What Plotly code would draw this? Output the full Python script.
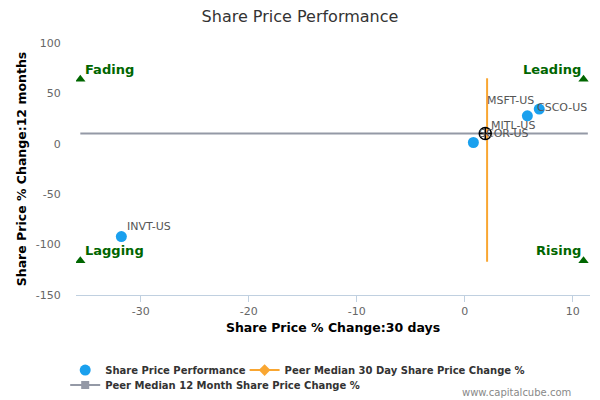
import plotly.graph_objects as go

# peers: 30 day change vs 12 month change
tickers = ["INVT-US", "SCOR-US", "MSFT-US", "CSCO-US"]
chg_30d = [-31.8, 0.8, 5.8, 6.9]
chg_12m = [-92.0, 1.3, 27.8, 34.4]

# subject company
subject = "MITL-US"
subject_30d = 1.9
subject_12m = 10.2

# peer medians and the extent of their guide lines
median_30d = 2.07
median_12m = 10.2
median_30d_span = [-117, 65]
median_12m_span = [-35.6, 11.4]

# quadrant markers
quad_names = ["Fading", "Leading", "Lagging", "Rising"]
quad_x = [-35.6, 11.0, -35.6, 11.0]
quad_y = [64, 64, -116, -116]

x_ticks = [-30, -20, -10, 0, 10]
x_tick_text = ["-30", "-20", "-10", "0", "10"]
y_ticks = [-150, -100, -50, 0, 50, 100]
y_tick_text = ["-150", "-100", "-50", "0", "50", "100"]

FONT = "DejaVu Sans"
BLUE = "#1aa0ee"
ORANGE = "#f9a631"
GREY = "#9499a6"
GREEN = "#006600"

fig = go.Figure()

fig.add_trace(go.Scatter(
    x=chg_30d, y=chg_12m, mode="markers", name="<b>Share Price Performance</b>",
    marker=dict(color=BLUE, size=11, line=dict(width=0)), legend="legend",
))
fig.add_trace(go.Scatter(
    x=[median_30d, median_30d], y=median_30d_span, mode="lines", showlegend=False,
    line=dict(color=ORANGE, width=2),
))
fig.add_trace(go.Scatter(
    x=median_12m_span, y=[median_12m, median_12m], mode="lines", showlegend=False,
    line=dict(color=GREY, width=2),
))
# legend entries for the median lines
fig.add_trace(go.Scatter(
    x=[None], y=[None], mode="lines+markers", legend="legend2",
    name="<b>Peer Median 30 Day Share Price Change %</b>",
    marker=dict(symbol="diamond", color=ORANGE, size=9), line=dict(color=ORANGE, width=2),
))
fig.add_trace(go.Scatter(
    x=[None], y=[None], mode="lines+markers", legend="legend3",
    name="<b>Peer Median 12 Month Share Price Change %</b>",
    marker=dict(symbol="square", color=GREY, size=8), line=dict(color=GREY, width=2),
))

fig.add_trace(go.Scatter(
    x=[subject_30d], y=[subject_12m], mode="markers", showlegend=False,
    marker=dict(symbol="circle-cross-open", color="black", size=12, line=dict(width=1.5)),
))
fig.add_trace(go.Scatter(
    x=quad_x, y=quad_y, mode="markers", showlegend=False,
    marker=dict(symbol="triangle-up", color=GREEN, size=9),
))

# data labels
label_shift = {
    "INVT-US": (4, 10, "left"),
    "SCOR-US": (4, 9, "left"),
    "MSFT-US": (-42, 15, "left"),
    "CSCO-US": (-4, 2, "left"),
}
for t, xv, yv in zip(tickers, chg_30d, chg_12m):
    dx, dy, anc = label_shift[t]
    fig.add_annotation(x=xv, y=yv, text=t, showarrow=False, xanchor=anc,
                       xshift=dx, yshift=dy, font=dict(family=FONT, size=11, color="#555"))
fig.add_annotation(x=subject_30d, y=subject_12m, text=subject, showarrow=False,
                   xanchor="left", xshift=4, yshift=8,
                   font=dict(family=FONT, size=11, color="#555"))

for name, xv, yv in zip(quad_names, quad_x, quad_y):
    left = xv < 0
    fig.add_annotation(x=xv, y=yv, text="<b>%s</b>" % name, showarrow=False,
                       xanchor="left" if left else "right",
                       xshift=3 if left else -1, yshift=10,
                       font=dict(family=FONT, size=13, color=GREEN))

# watermark, placed relative to the plot area (left 76, bottom 295, height 252 px)
fig.add_annotation(x=(573 - 76) / 514, y=(295 - 392) / 252, xref="paper", yref="paper",
                   text="www.capitalcube.com", showarrow=False,
                   xanchor="right", yanchor="middle",
                   font=dict(family=FONT, size=10, color="#888"))

leg_font = dict(family=FONT, size=10, color="#333")
leg_common = dict(orientation="h", xanchor="left", yanchor="top", yref="container",
                  font=leg_font, bgcolor="rgba(0,0,0,0)")
fig.update_layout(
    width=600, height=400,
    margin=dict(l=76, r=10, t=43, b=105),
    paper_bgcolor="white", plot_bgcolor="white",
    font=dict(family=FONT, color="#333"),
    title=dict(text="Share Price Performance", x=0.5, xanchor="center",
               y=0.96, yanchor="middle",
               font=dict(family=FONT, size=16, color="#333")),
    xaxis=dict(range=[-36, 11.6], tickvals=x_ticks, ticktext=x_tick_text,
               showgrid=False, zeroline=False, automargin=False,
               showline=True, linecolor="#c0d0e0", ticks="outside", tickcolor="#c0d0e0",
               ticklen=6, tickfont=dict(family=FONT, size=11, color="#666"),
               title=dict(text="<b>Share Price % Change:30 days</b>", standoff=6,
                          font=dict(family=FONT, size=12.5, color="black"))),
    yaxis=dict(range=[-150, 100], tickvals=y_ticks, ticktext=y_tick_text,
               showgrid=False, zeroline=False, showline=False,
               ticks="outside", ticklen=12, tickcolor="rgba(0,0,0,0)",
               tickfont=dict(family=FONT, size=11, color="#666"),
               title=dict(text="<b>Share Price % Change:12 months</b>", standoff=6,
                          font=dict(family=FONT, size=12.5, color="black"))),
    legend=dict(x=-0.021, y=0.111, **leg_common),
    legend2=dict(x=0.328, y=0.111, **leg_common),
    legend3=dict(x=-0.021, y=0.074, **leg_common),
    showlegend=True,
)

fig.write_html("out.html", config={"displayModeBar": False},
               post_script="document.body.style.margin='0';")
